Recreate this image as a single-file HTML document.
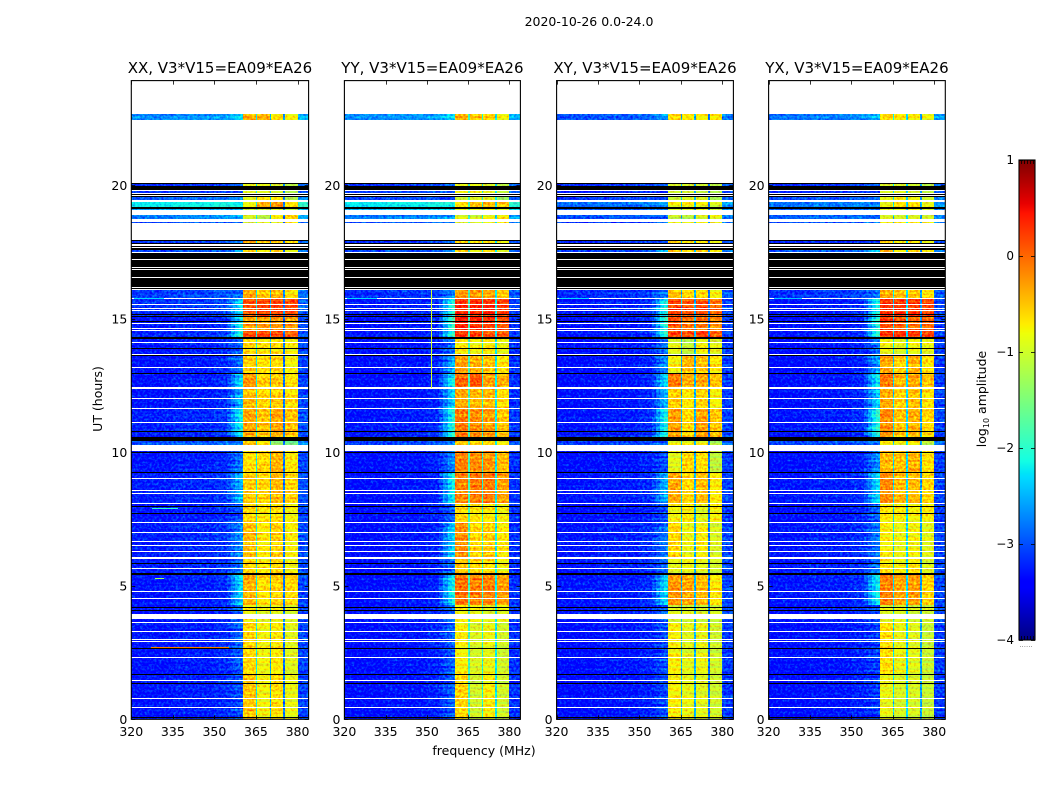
<!DOCTYPE html>
<html lang="en">
<head>
<meta charset="utf-8">
<title>2020-10-26 0.0-24.0</title>
<style>
html,body{margin:0;padding:0;background:#fff;}
svg{display:block;font-family:"DejaVu Sans","Liberation Sans",sans-serif;fill:#000;}
</style>
</head>
<body>
<svg id="figure" xmlns="http://www.w3.org/2000/svg" width="1050" height="800" viewBox="0 0 1050 800">
  <defs>
    <filter id="grain" x="0" y="0" width="100%" height="100%" color-interpolation-filters="sRGB">
      <feTurbulence type="fractalNoise" baseFrequency="0.42" numOctaves="2" seed="7" result="n"/>
      <feColorMatrix in="n" type="matrix" values="0 0 0 0 0.5  1 0 0 0 0  0 0 0 0 0.5  0 0 0 0 1" result="g"/>
      <feComposite in="SourceGraphic" in2="g" operator="arithmetic" k1="0" k2="1" k3="1" k4="-0.5" result="m"/>
      <feComposite in="m" in2="SourceAlpha" operator="in"/>
    </filter>
  </defs>
  <text x="589" y="26" font-size="12.5" text-anchor="middle">2020-10-26 0.0-24.0</text>
  <g id="panels"></g>
  <text x="484" y="755" font-size="12.5" text-anchor="middle">frequency (MHz)</text>
  <text transform="translate(102,399) rotate(-90)" font-size="12.5" text-anchor="middle">UT (hours)</text>
  <g id="colorbar"></g>
  <text transform="translate(986,399) rotate(-90)" font-size="12.5" text-anchor="middle">log<tspan font-size="8" dy="3">10</tspan><tspan dy="-3"> amplitude</tspan></text>
  <text x="1026" y="647" font-size="7" fill="#777" text-anchor="middle">......</text>
</svg>
<script>
/* ---------- chart data (hours, MHz, log10 amplitude) ---------- */
const panelNames = ['XX', 'YY', 'XY', 'YX'];
const panelTitle = ', V3*V15=EA09*EA26';
const panelEdgesLeft = [131.3, 344.4, 556.6, 768.6];
const panelEdgesRight = [308.6, 520.4, 733.4, 945.3];
const xTicks = [320, 335, 350, 365, 380];
const yTicks = [0, 5, 10, 15, 20];
const colorbarTicks = [1, 0, -1, -2, -3, -4];
const colorbarEndMarks = [.15, .32, .5, .68, .85];

const sectionBottoms = [0, 1.69, 3.63, 4.27, 5.47, 6.0, 7.38, 8.09, 9.25, 10.26, 10.41, 11.65, 12.40, 12.96, 13.63, 14.27, 14.57, 15.09, 15.77, 17.49, 17.83, 18.58, 18.73, 19.06, 19.18, 19.44, 19.72, 19.96, 22.45];
const sectionTops = [1.69, 3.63, 4.27, 5.47, 6.0, 7.38, 8.09, 9.25, 10.26, 10.41, 11.65, 12.40, 12.96, 13.63, 14.27, 14.57, 15.09, 15.77, 16.07, 17.58, 17.90, 18.61, 18.88, 19.12, 19.36, 19.55, 19.78, 20.04, 22.68];

/* each row: background, shoulder, block 1..4 */
const levelsXX = [
  [-3.3,-3.0,-.5,-.8,-.65,-.85],[-3.3,-2.9,-.6,-.8,-.7,-.9],[-3.3,-2.8,-.75,-.85,-.8,-.9],[-3.3,-2.3,-.4,-.65,-.55,-.6],
  [-3.25,-2.8,-.6,-.7,-.6,-.8],[-3.25,-2.7,-.45,-.7,-.55,-.75],[-3.3,-3.0,-.6,-.7,-.65,-.8],[-3.25,-2.5,-.55,-.6,-.45,-.6],
  [-3.3,-2.8,-.65,-.6,-.4,-.7],[-3.0,-2.8,-.55,-.7,-1.4,-1.6],[-3.25,-2.2,-.35,-.5,-.35,-.5],[-3.3,-2.5,-.45,-.6,-.55,-.65],
  [-3.3,-2.3,-.25,-.55,-.5,-.65],[-3.3,-2.8,-.55,-.65,-.6,-.75],[-3.3,-2.9,-.6,-.7,-.65,-.75],[-3.2,-2.0,.15,.2,.15,.05],
  [-3.3,-2.2,-.3,-.3,-.25,-.3],[-3.15,-2.3,.1,.2,.2,.15],[-3.1,-2.9,-.35,-.55,-.45,-.7],
  [-3.0,-2.3,-.5,-.7,-.5,-.8],[-3.2,-2.9,-.5,-.7,-.7,-.8],[-3.0,-2.8,-.9,-.8,-.8,-.6],[-2.8,-2.6,-1,-1.2,-.8,-.6],
  [-2.5,-2.4,-.9,-.9,-.8,-1],[-2.2,-2.2,-.8,-.35,-.25,-.6],[-3.0,-2.9,-1,-.8,-.8,-1.3],[-3.1,-3.0,-.8,-.8,-.9,-1.1],
  [-3.2,-3.0,-.9,-.9,-1,-1.2],[-2.7,-2.3,-.35,-.4,-.65,-.75]
];
const levelsYY = [
  [-3.35,-2.9,-.6,-1,-.75,-1],[-3.35,-2.9,-.75,-.95,-.85,-1],[-3.3,-2.8,-.75,-.8,-.9,-.85],[-3.35,-2.1,-.05,-.15,-.15,-.3],
  [-3.35,-2.8,-.5,-.6,-.65,-.8],[-3.35,-2.3,-.2,-.6,-.55,-.7],[-3.35,-2.9,-.6,-.7,-.7,-.8],[-3.35,-2.1,-.15,-.1,-.1,-.3],
  [-3.35,-2.7,-.15,-.2,-.25,-.45],[-3.1,-2.7,-.5,-.6,-.55,-.75],[-3.3,-2.0,-.1,-.2,-.3,-.5],[-3.35,-2.3,-.35,-.45,-.45,-.65],
  [-3.35,-2.1,0,.1,-.3,-.4],[-3.35,-2.5,-.3,-.4,-.5,-.7],[-3.35,-2.8,-.7,-.8,-.7,-.85],[-3.3,-1.9,.25,.25,.1,.05],
  [-3.35,-1.8,.4,.35,.25,.15],[-3.3,-2.0,.3,.35,.3,.2],[-3.2,-2.8,-.3,-.3,-.4,-.55],
  [-3.0,-2.4,-.5,-.7,-.55,-.8],[-3.2,-2.9,-.6,-.7,-.7,-.85],[-3.0,-2.8,-.9,-.9,-.8,-.7],[-2.8,-2.6,-.9,-1,-.8,-.7],
  [-2.5,-2.4,-.9,-.9,-.8,-1],[-2.25,-2.2,-.7,-.5,-.45,-.6],[-3.0,-2.9,-.9,-.8,-.8,-1.2],[-3.1,-3.0,-.8,-.8,-.9,-1.1],
  [-3.2,-3.0,-.9,-.9,-1,-1.2],[-2.7,-2.3,-.4,-.55,-.6,-.8]
];
const levelsXY = [
  [-3.35,-3.0,-.75,-.85,-.9,-1],[-3.35,-3.0,-.75,-.9,-.85,-1],[-3.3,-2.9,-.95,-.95,-1,-1],[-3.3,-2.3,-.25,-.35,-.45,-.7],
  [-3.3,-2.9,-.9,-.85,-.9,-1],[-3.3,-2.8,-.6,-.85,-.75,-.95],[-3.35,-3.0,-.8,-.7,-.9,-.75],[-3.3,-2.5,-.35,-.6,-.45,-.7],
  [-3.35,-3.0,-.9,-.6,-.65,-1.1],[-3.1,-2.9,-.8,-.8,-.8,-1.2],[-3.3,-2.1,-.3,-.6,-.3,-.5],[-3.35,-2.5,-.55,-.7,-.6,-.8],
  [-3.35,-2.3,-.1,-.4,-.35,-.5],[-3.35,-2.7,-.8,-.45,-.5,-.7],[-3.35,-2.8,-.9,-1.1,-.8,-.9],[-3.3,-2.0,.2,.15,.2,.05],
  [-3.35,-2.0,.1,-.1,-.1,-.2],[-3.3,-2.1,.2,.1,.15,-.05],[-3.2,-2.8,-.5,-.6,-.65,-.8],
  [-3.1,-2.5,-.5,-.7,-.6,-.8],[-3.2,-3.0,-.5,-.7,-.7,-.8],[-3.2,-3.0,-.9,-.9,-.85,-.9],[-3.0,-2.9,-1,-1.1,-.9,-.8],
  [-3.0,-2.9,-1,-1,-.9,-1.1],[-2.9,-2.7,-.85,-.8,-.85,-1],[-3.1,-3.0,-1,-.9,-.9,-1.2],[-3.2,-3.1,-.9,-.9,-1,-1.1],
  [-3.2,-3.0,-1,-1,-1.05,-1.2],[-3.0,-2.6,-.6,-.7,-.75,-.7]
];
const levelsYX = [
  [-3.35,-3.1,-.85,-.95,-.95,-1.05],[-3.35,-3.1,-.65,-.85,-.9,-1.05],[-3.3,-3.0,-.9,-.9,-1,-1],[-3.3,-2.2,-.15,-.35,-.3,-.6],
  [-3.3,-2.8,-.7,-.8,-.7,-.95],[-3.3,-2.8,-.75,-.85,-.8,-.9],[-3.35,-2.9,-.7,-.75,-.8,-.75],[-3.3,-2.3,-.2,-.45,-.45,-.6],
  [-3.35,-2.7,-.45,-.5,-.4,-.65],[-3.05,-2.8,-.7,-.8,-.7,-1.1],[-3.3,-2.0,-.2,-.5,-.4,-.6],[-3.35,-2.4,-.4,-.6,-.5,-.7],
  [-3.35,-2.2,-.1,-.45,-.35,-.5],[-3.35,-2.6,-.35,-.55,-.4,-.65],[-3.35,-2.8,-.8,-.9,-.8,-.85],[-3.3,-2.0,.25,.3,.25,.2],
  [-3.35,-2.0,.2,.05,0,0],[-3.3,-2.1,.3,.25,.25,.2],[-3.15,-2.8,-.35,-.5,-.5,-.65],
  [-3.0,-2.4,-.45,-.8,-.6,-.8],[-3.2,-3.0,-.55,-.7,-.65,-.8],[-3.1,-3.0,-.9,-.85,-.85,-.9],[-2.9,-2.8,-.85,-.9,-.85,-.9],
  [-3.0,-2.9,-.9,-.9,-.85,-1],[-2.8,-2.7,-.8,-.55,-.6,-.8],[-3.1,-3.0,-.95,-.85,-.9,-1.1],[-3.2,-3.1,-.9,-.85,-.95,-1.1],
  [-3.2,-3.0,-1,-1,-1.05,-1.2],[-2.8,-2.4,-.6,-.65,-.7,-.8]
];
const panelLevels = [levelsXX, levelsYY, levelsXY, levelsYX];
const gapLevels = [[-2.2,-2.5,-2.8],[-1.9,-2.1,-2.2],[-2.5,-2.5,-2.8],[-2.3,-2.3,-2.6]];
const outerLift = [.25,.2,.25,.25];

/* spectral layout in MHz */
const backgroundEdges = [320, 335, 350, 354.5];
const backgroundLift = [0, .05, .12];
const shoulderEdges = [354.5, 356, 357.5, 359, 360.4];
const shoulderWeight = [.2, .5, .8, 1];
const blockStarts = [360.4, 365.5, 370.4, 375.5];
const blockEnds = [364.9, 369.9, 374.9, 380];
const gapStarts = [364.9, 369.9, 374.9];
const gapEnds = [365.5, 370.4, 375.5];
const outerBand = [380, 384];

/* hand-read time-row banding (log10 offset) */
const rowBanding = [.1,-.1,.05,-.06,.13,-.08,.02,.09,-.13,.04,-.03,.11,-.09,.06,-.02,.08,-.12,.03,.07,-.06,.12,-.04,-.1,.05,.01,-.07,.1,-.02,.06,-.11,.09,-.05,.03];

/* flagged rows */
const blackHours = [.07,1.35,1.69,2.66,4.08,4.19,5.43,5.47,5.84,7.72,7.98,9.25,10.0,10.79,12.96,13.63,13.90,14.91,15.09];
const blackSpanStarts = [14.25,10.41,15.14,19.12,19.57,19.81,20.04,17.58,17.68,17.79,17.90,17.23,16.95,16.85,16.55,16.20,16.10];
const blackSpanEnds = [14.30,10.56,15.18,19.18,19.68,19.96,20.07,17.64,17.73,17.83,17.94,17.48,17.20,16.91,16.82,16.52,16.16];
const whiteHours = [.45,.79,1.46,2.32,2.92,3.0,3.3,3.63,4.53,4.79,5.66,6.29,6.52,6.67,7.0,7.38,8.09,8.46,8.58,9.03,11.12,11.65,12.02,12.40,12.43,13.18,13.67,14.12,14.57,14.64,14.83,15.32,15.39,15.54,15.77,19.63];
const whiteSpanStarts = [3.75,5.99,10.04];
const whiteSpanEnds = [3.93,6.07,10.26];

/* narrow interference features: panel index, MHz from, MHz to, hour from, hour to, level */
const rfiPanel = [0,0,0,0,1,1,2,3];
const rfiFromMHz = [328.7,327.6,327,321,321,351.6,321,322];
const rfiToMHz = [332,337,355,332,332,351.9,332,332];
const rfiFromHour = [5.26,7.87,2.66,15.73,15.73,12.4,15.73,15.73];
const rfiToHour = [5.3,7.92,2.7,15.77,15.77,16.07,15.77,15.77];
const rfiLevel = [-1.3,-2.0,-.1,-2.3,-2.3,-1.0,-2.3,-2.4];

/* jet colormap knots */
const jetRedX = [0,.35,.66,.89,1], jetRedY = [0,0,1,1,.5];
const jetGreenX = [0,.125,.375,.64,.91,1], jetGreenY = [0,0,1,1,0,0];
const jetBlueX = [0,.11,.34,.65,1], jetBlueY = [.5,1,1,0,0];

/* ---------- drawing ---------- */
const NS = 'http://www.w3.org/2000/svg';
const axisTop = 80.6, axisBottom = 719.3, hourPx = 26.7, rowStep = 0.08;
const colorMin = -4, colorMax = 1;
const yScale = h => axisBottom - hourPx * h;
const xScaleFor = p => m => panelEdgesLeft[p] + (panelEdgesRight[p] - panelEdgesLeft[p]) * (m - 320) / 64;
function knot(xs, ys, t) {
  for (let i = 1; i < xs.length; i++) {
    if (t <= xs[i]) return ys[i-1] + (ys[i] - ys[i-1]) * (t - xs[i-1]) / (xs[i] - xs[i-1]);
  }
  return ys[ys.length - 1];
}
function colorOf(v) {
  const t = Math.max(0, Math.min(1, (v - colorMin) / (colorMax - colorMin)));
  return 'rgb(' + Math.round(255*knot(jetRedX,jetRedY,t)) + ',' + Math.round(255*knot(jetGreenX,jetGreenY,t)) + ',' + Math.round(255*knot(jetBlueX,jetBlueY,t)) + ')';
}
function shape(parent, tag, attrs) {
  const el = document.createElementNS(NS, tag);
  for (const k in attrs) el.setAttribute(k, attrs[k]);
  parent.appendChild(el);
  return el;
}
const panelsRoot = document.getElementById('panels');

panelNames.forEach(function (name, p) {
  const x = xScaleFor(p);
  const left = panelEdgesLeft[p], right = panelEdgesRight[p];
  const panel = shape(panelsRoot, 'g', {});
  
  

  const heat = shape(panel, 'g', {filter: 'url(#grain)', 'shape-rendering': 'crispEdges'});
  
  

  function cell(m0, m1, h0, h1, v) {
    const y1 = Math.round(yScale(h1)), y0 = Math.round(yScale(h0));
    const x0 = Math.round(x(m0)), x1 = Math.round(x(m1));
    const r = shape(heat, 'rect', {x: x0, y: y1, width: Math.max(1, x1 - x0), height: Math.max(1, y0 - y1), fill: colorOf(v)});
    
    
  }

  let rowIndex = p * 5;
  sectionBottoms.forEach(function (bottom, s) {
    const top = sectionTops[s];
    const lv = panelLevels[p][s];
    const rows = Math.max(1, Math.round((top - bottom) / rowStep));
    for (let r = 0; r < rows; r++) {
      const h0 = bottom + (top - bottom) * r / rows;
      const h1 = bottom + (top - bottom) * (r + 1) / rows;
      const band = rowBanding[rowIndex % rowBanding.length];
      rowIndex++;
      for (let c = 0; c < backgroundLift.length; c++) {
        cell(backgroundEdges[c], backgroundEdges[c+1], h0, h1, lv[0] + backgroundLift[c] + band * .5);
      }
      for (let c = 0; c < shoulderWeight.length; c++) {
        cell(shoulderEdges[c], shoulderEdges[c+1], h0, h1, lv[0] + .12 + (lv[1] - lv[0] - .12) * shoulderWeight[c] + band * 1.5);
      }
      for (let b = 0; b < blockStarts.length; b++) {
        cell(blockStarts[b], blockEnds[b], h0, h1, lv[2+b] + band);
      }
      for (let g = 0; g < gapStarts.length; g++) {
        cell(gapStarts[g], gapEnds[g], h0, h1, gapLevels[p][g]);
      }
      cell(outerBand[0], outerBand[1], h0, h1, lv[0] + outerLift[p] + band);
    }
  });

  const flags = shape(panel, 'g', {'shape-rendering': 'crispEdges'});
  
  
  function flagRow(h0, h1, fill) {
    const yt = Math.round(yScale(h1)), yb = Math.round(yScale(h0));
    const r = shape(flags, 'rect', {x: Math.round(left), y: yt, width: Math.round(right) - Math.round(left), height: Math.max(1, yb - yt), fill: fill});
    
    
  }
  blackHours.forEach(function (h) { flagRow(h, h, '#000'); });
  blackSpanStarts.forEach(function (h, i) { flagRow(h, blackSpanEnds[i], '#000'); });
  whiteHours.forEach(function (h) { flagRow(h, h, '#fff'); });
  whiteSpanStarts.forEach(function (h, i) { flagRow(h, whiteSpanEnds[i], '#fff'); });

  rfiPanel.forEach(function (q, i) {
    if (q !== p) return;
    const yt = Math.round(yScale(rfiToHour[i])), yb = Math.round(yScale(rfiFromHour[i]));
    const r = shape(flags, 'rect', {x: Math.round(x(rfiFromMHz[i])), y: yt, width: Math.max(1, Math.round(x(rfiToMHz[i]) - x(rfiFromMHz[i]))), height: Math.max(1, yb - yt), fill: colorOf(rfiLevel[i])});
    
    
  });

  const frame = shape(panel, 'rect', {x: left, y: axisTop, width: right - left, height: axisBottom - axisTop, fill: 'none', stroke: '#000', 'stroke-width': 1.1});
  
  

  const title = shape(panel, 'text', {x: (left + right) / 2, y: 73, 'font-size': 15, 'text-anchor': 'middle'});
  title.textContent = name + panelTitle;
  
  

  xTicks.forEach(function (t) {
    const px = Math.round(x(t)) + .5;
    [[axisTop, axisTop + 4], [axisBottom - 4, axisBottom]].forEach(function (seg) {
      const tick = shape(panel, 'line', {x1: px, x2: px, y1: seg[0], y2: seg[1], stroke: '#000', 'stroke-width': .8});
      
      
    });
    const label = shape(panel, 'text', {x: x(t), y: 736, 'font-size': 12.5, 'text-anchor': 'middle'});
    label.textContent = t;
    
    
  });

  yTicks.forEach(function (t) {
    const py = Math.round(yScale(t)) + .5;
    [[left, left + 4], [right - 4, right]].forEach(function (seg) {
      const tick = shape(panel, 'line', {x1: seg[0], x2: seg[1], y1: py, y2: py, stroke: '#000', 'stroke-width': .8});
      
      
    });
    const label = shape(panel, 'text', {x: left - 4, y: yScale(t) + 4.5, 'font-size': 12.5, 'text-anchor': 'end'});
    label.textContent = t;
    
    
  });
});

/* colorbar */
(function () {
  const root = document.getElementById('colorbar');
  const cbX = 1019, cbW = 16, cbTop = 160, cbBottom = 640;
  const cbY = v => cbBottom - (v - colorMin) / (colorMax - colorMin) * (cbBottom - cbTop);
  const steps = 240;
  for (let i = 0; i < steps; i++) {
    const v0 = colorMin + (colorMax - colorMin) * i / steps;
    const v1 = colorMin + (colorMax - colorMin) * (i + 1) / steps;
    const r = shape(root, 'rect', {x: cbX, y: cbY(v1), width: cbW, height: cbY(v0) - cbY(v1) + .5, fill: colorOf((v0 + v1) / 2), 'shape-rendering': 'crispEdges'});
    
    
  }
  const box = shape(root, 'rect', {x: cbX, y: cbTop, width: cbW, height: cbBottom - cbTop, fill: 'none', stroke: '#000', 'stroke-width': 1.1});
  
  
  colorbarEndMarks.forEach(function (f) {
    const mx = Math.round(cbX + cbW * f) + .5;
    [[cbTop, cbTop + 4], [cbBottom - 4, cbBottom]].forEach(function (seg) {
      const mark = shape(root, 'line', {x1: mx, x2: mx, y1: seg[0], y2: seg[1], stroke: '#000', 'stroke-width': .8});
      
      
    });
  });
  colorbarTicks.forEach(function (t) {
    const py = Math.round(cbY(t)) + .5;
    [[cbX, cbX + 4], [cbX + cbW - 4, cbX + cbW]].forEach(function (seg) {
      const tick = shape(root, 'line', {x1: seg[0], x2: seg[1], y1: py, y2: py, stroke: '#000', 'stroke-width': .8});
      
      
    });
    const label = shape(root, 'text', {x: cbX - 5, y: cbY(t) + 4, 'font-size': 12, 'text-anchor': 'end'});
    label.textContent = String(t).replace('-', '\u2212');
    
    
  });
})();
</script>
</body>
</html>
